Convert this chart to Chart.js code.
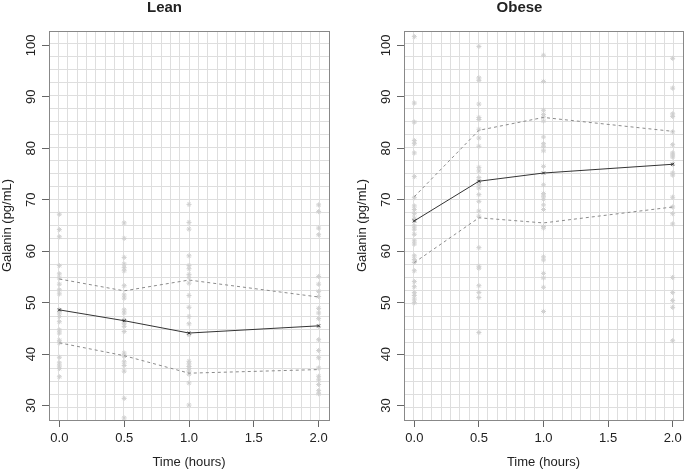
<!DOCTYPE html>
<html>
<head>
<meta charset="utf-8">
<script src="https://cdn.jsdelivr.net/npm/chart.js@4/dist/chart.umd.min.js"></script>
<style>
  html, body { margin: 0; padding: 0; background: #fff; overflow: hidden; }
  #wrap { position: relative; width: 685px; height: 470px; overflow: hidden; }
  canvas { position: absolute; top: 0; }
</style>
</head>
<body>
<div id="wrap">
  <canvas id="leanChart" width="346" height="470" style="left:0"></canvas>
  <canvas id="obeseChart" width="346" height="470" style="left:342px"></canvas>
</div>
<script>
// time points (hours) and axis ticks
const times = [0, 0.5, 1, 2];
const xTicks = [0, 0.5, 1, 1.5, 2];
const yTicks = [30, 40, 50, 60, 70, 80, 90, 100];

// Lean: individual values per time point
const lean0 = [67.2, 64.2, 62.8, 57.2, 55.6, 54.8, 53.6, 52.5, 51.7, 48.6, 48.0, 47.3, 46.3, 44.7, 44.1, 42.7, 42.2, 39.4, 38.3, 37.7, 37.2, 35.6];
const lean05 = [65.5, 62.5, 58.8, 57.5, 56.8, 56.2, 53.3, 51.5, 50.9, 48.6, 48.0, 46.7, 46.0, 45.4, 44.4, 40.2, 39.6, 38.5, 37.8, 36.7, 31.4, 27.6];
const lean1 = [69.1, 65.6, 64.3, 59.1, 57.2, 56.6, 55.5, 54.9, 53.8, 51.4, 49.1, 47.3, 45.9, 43.9, 43.8, 38.6, 38.1, 37.6, 37.2, 36.7, 36.1, 34.4, 30.1];
const lean2 = [69.0, 67.7, 64.5, 63.2, 55.1, 53.6, 52.2, 51.2, 48.9, 48.0, 46.9, 45.4, 42.8, 40.7, 39.3, 37.3, 35.7, 35.0, 34.1, 32.9, 32.3];
const leanMean = [48.6, 46.5, 44.1, 45.5];
const leanUpper = [54.6, 52.3, 54.4, 51.1];
const leanLower = [42.2, 39.7, 36.3, 37.0];

// Obese: individual values per time point
const obese0 = [101.7, 88.8, 85.1, 81.5, 80.9, 79.1, 74.5, 70.4, 68.8, 68.1, 67.3, 66.4, 65.9, 64.9, 64.3, 63.3, 62.0, 61.4, 59.1, 58.4, 57.8, 56.2, 54.1, 53.1, 52.0, 51.4, 50.7, 50.0];
const obese05 = [99.8, 93.7, 93.2, 88.6, 86.0, 85.6, 83.7, 82.0, 80.4, 76.3, 75.6, 74.3, 73.6, 72.9, 72.3, 71.0, 69.7, 67.8, 66.8, 60.7, 57.1, 56.7, 53.3, 52.0, 51.0, 44.2];
const obese1 = [98.1, 93.0, 87.4, 86.6, 86.1, 85.3, 82.2, 80.9, 80.3, 79.5, 76.5, 72.9, 71.2, 70.7, 70.1, 69.0, 68.1, 64.8, 64.5, 58.9, 58.3, 55.7, 54.8, 53.0, 48.3];
const obese2 = [97.5, 91.7, 86.7, 86.2, 83.2, 80.7, 79.1, 78.7, 78.3, 76.9, 75.2, 74.8, 70.5, 68.6, 67.3, 65.3, 54.9, 52.0, 50.4, 49.1, 42.6];
const obeseMean = [65.9, 73.6, 75.2, 76.9];
const obeseUpper = [70.6, 83.5, 86.0, 83.3];
const obeseLower = [57.8, 66.5, 65.5, 68.6];

const FONT = "'Liberation Sans', Arial, Helvetica, sans-serif";
const TEXT = '#222';
const X_MIN = -0.08, X_MAX = 2.08, Y_MIN = 27.2, Y_MAX = 102.8;

const toPoints = (xs, ys) => xs.map((x, i) => ({ x: x, y: ys[i] }));

const rawPoints = (groups) => {
  let pts = [];
  groups.forEach((vals, i) => vals.forEach(v => pts.push({ x: times[i], y: v })));
  return pts;
};

// 30 equal divisions of the plot box, like R's grid(30, 30)
const gridTicks = (min, max) => {
  let t = [];
  for (let i = 0; i <= 30; i++) t.push({ value: min + (max - min) * i / 30 });
  return t;
};

const makeChart = (id, title, groups, mean, upper, lower, padLeft, padRight) => {
  const ctx = document.getElementById(id).getContext('2d');
  return new Chart(ctx, {
    type: 'scatter',
    data: {
      datasets: [
        {
          label: 'mean', data: toPoints(times, mean), showLine: true,
          borderColor: '#333', borderWidth: 1, pointStyle: 'crossRot', pointRadius: 2,
          pointBorderColor: '#333', pointBorderWidth: 1, backgroundColor: '#333'
        },
        {
          label: 'upper', data: toPoints(times, upper), showLine: true,
          borderColor: '#8a8a8a', borderWidth: 1, borderDash: [3, 3], pointRadius: 0
        },
        {
          label: 'lower', data: toPoints(times, lower), showLine: true,
          borderColor: '#8a8a8a', borderWidth: 1, borderDash: [3, 3], pointRadius: 0
        },
        {
          label: 'raw', data: rawPoints(groups), showLine: false,
          pointStyle: 'star', pointRadius: 2.5, pointBorderColor: '#cfcfcf',
          pointBorderWidth: 1, backgroundColor: '#cfcfcf'
        }
      ]
    },
    options: {
      responsive: false,
      animation: false,
      layout: { padding: { left: padLeft, right: padRight, top: 0, bottom: 0 } },
      plugins: {
        legend: { display: false },
        tooltip: { enabled: false },
        title: {
          display: true, text: title, color: TEXT,
          font: { family: FONT, size: 15, weight: 'bold', lineHeight: 1 },
          padding: { top: 0, bottom: 16 }
        }
      },
      scales: {
        x: {
          type: 'linear', position: 'bottom', min: X_MIN, max: X_MAX,
          afterBuildTicks: (s) => { s.ticks = xTicks.map(v => ({ value: v })); },
          afterFit: (s) => { s.height = 50; },
          grid: { drawOnChartArea: false, drawTicks: true, tickLength: 7, tickColor: '#666' },
          border: { display: true, color: '#888', width: 1 },
          ticks: { color: TEXT, font: { family: FONT, size: 13 }, padding: 4, maxRotation: 0,
                   callback: (v) => Number(v).toFixed(1) },
          title: { display: true, text: 'Time (hours)', color: TEXT,
                   font: { family: FONT, size: 13 }, padding: 0 }
        },
        xg: {
          type: 'linear', position: 'top', min: X_MIN, max: X_MAX,
          afterBuildTicks: (s) => { s.ticks = gridTicks(X_MIN, X_MAX); },
          afterFit: (s) => { s.height = 0; },
          grid: { color: '#dedede', lineWidth: 1, drawTicks: false },
          border: { display: true, color: '#888', width: 1 },
          ticks: { display: false }
        },
        y: {
          type: 'linear', position: 'left', min: Y_MIN, max: Y_MAX,
          afterBuildTicks: (s) => { s.ticks = yTicks.map(v => ({ value: v })); },
          afterFit: (s) => { s.width = 49; },
          grid: { drawOnChartArea: false, drawTicks: true, tickLength: 7, tickColor: '#666' },
          border: { display: true, color: '#888', width: 1 },
          ticks: { color: TEXT, font: { family: FONT, size: 13 }, padding: 0,
                   minRotation: 90, maxRotation: 90, crossAlign: 'center' },
          title: { display: true, text: 'Galanin (pg/mL)', color: TEXT,
                   font: { family: FONT, size: 13 }, padding: 0 }
        },
        yg: {
          type: 'linear', position: 'right', min: Y_MIN, max: Y_MAX,
          afterBuildTicks: (s) => { s.ticks = gridTicks(Y_MIN, Y_MAX); },
          afterFit: (s) => { s.width = 0; },
          grid: { color: '#dedede', lineWidth: 1, drawTicks: false },
          border: { display: true, color: '#888', width: 1 },
          ticks: { display: false }
        }
      }
    }
  });
};

makeChart('leanChart', 'Lean', [lean0, lean05, lean1, lean2], leanMean, leanUpper, leanLower, 0, 17);
makeChart('obeseChart', 'Obese', [obese0, obese05, obese1, obese2], obeseMean, obeseUpper, obeseLower, 13, 4);
</script>
</body>
</html>
